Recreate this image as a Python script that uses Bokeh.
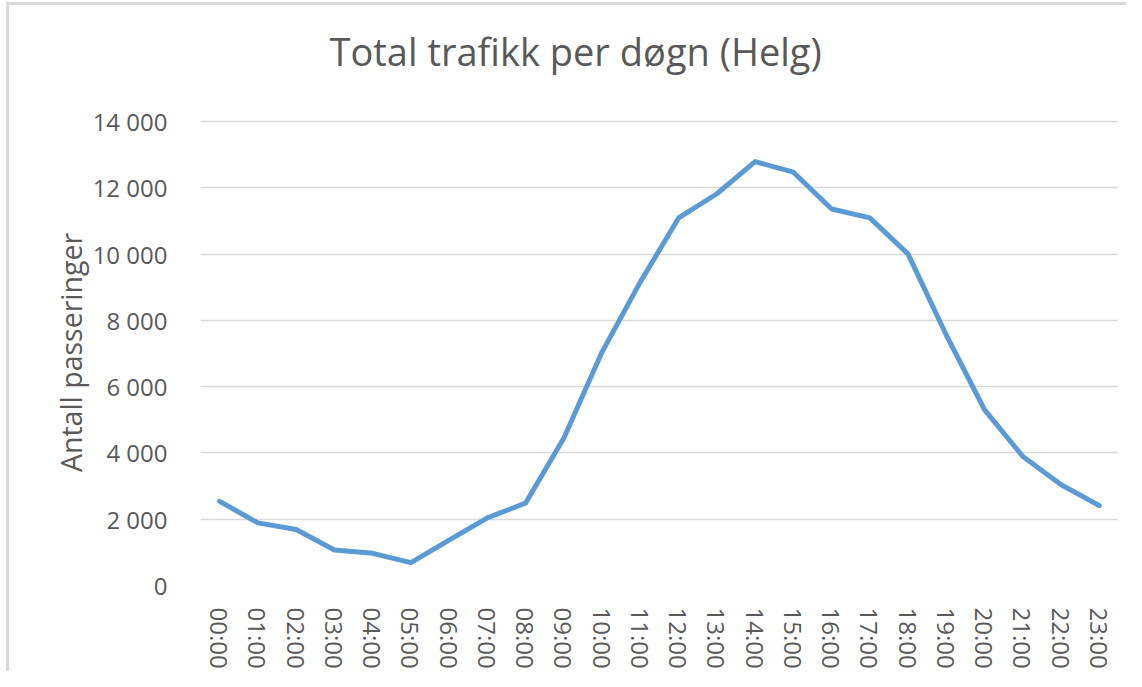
from bokeh.plotting import figure
from bokeh.models import FactorRange, Range1d, FixedTicker, Title, InlineStyleSheet
from bokeh.embed import file_html
from bokeh.resources import INLINE

hours = ["00:00", "01:00", "02:00", "03:00", "04:00", "05:00", "06:00", "07:00",
         "08:00", "09:00", "10:00", "11:00", "12:00", "13:00", "14:00", "15:00",
         "16:00", "17:00", "18:00", "19:00", "20:00", "21:00", "22:00", "23:00"]
passeringer = [2540, 1890, 1690, 1070, 970, 690, 1370, 2040,
               2490, 4450, 7050, 9160, 11090, 11820, 12790, 12470,
               11360, 11090, 10000, 7550, 5300, 3890, 3040, 2410]
y_ticks = [0, 2000, 4000, 6000, 8000, 10000, 12000, 14000]
y_tick_labels = ["0", "2 000", "4 000", "6 000", "8 000", "10 000", "12 000", "14 000"]
title_text = "Total trafikk per døgn (Helg)"

FONT = "Open Sans"
GREY = "#595959"

p = figure(width=1126, height=671, x_range=FactorRange(*hours), y_range=Range1d(0, 14060),
           output_backend="svg", toolbar_location=None,
           min_border_left=200, min_border_right=8, min_border_top=20, min_border_bottom=85)

# main title (outer)
p.title.text = title_text
p.title.text_font = FONT
p.title.text_font_size = "38px"
p.title.text_font_style = "normal"
p.title.text_color = GREY
p.title.align = "left"
p.title.offset = 129
p.title.standoff = 46.4

# spacer title (closest to the frame) to keep a gap between title and plot
spacer = Title(text=" ", text_font_size="1px", standoff=15.5)
p.add_layout(spacer, "above")

p.outline_line_color = None
p.background_fill_color = "white"
p.border_fill_color = "white"

p.xgrid.grid_line_color = None
p.ygrid.grid_line_color = "#d9d9d9"
p.ygrid.grid_line_width = 1.5

p.yaxis.ticker = FixedTicker(ticks=y_ticks)
p.yaxis.major_label_overrides = {t: l for t, l in zip(y_ticks, y_tick_labels)}
p.yaxis.axis_label = "Antall passeringer"

for ax in (p.xaxis[0], p.yaxis[0]):
    ax.axis_line_color = None
    ax.major_tick_line_color = None
    ax.minor_tick_line_color = None
    ax.major_label_text_font = FONT
    ax.major_label_text_font_size = "24px"
    ax.major_label_text_color = GREY
    ax.axis_label_text_font = FONT
    ax.axis_label_text_font_size = "28.5px"
    ax.axis_label_text_font_style = "normal"
    ax.axis_label_text_color = GREY

p.yaxis.major_label_standoff = 27
p.yaxis.axis_label_standoff = 0
p.xaxis.major_label_orientation = "vertical"
p.xaxis.major_label_standoff = 16

# outer chart-area border (top and left edges visible in the reference)
p.stylesheets = [InlineStyleSheet(css="""
:host { position: relative; }
:host::after {
  content: ""; position: absolute; left: 6px; top: 2px; right: 0; bottom: 0;
  border-top: 3px solid #d9d9d9; border-left: 3px solid #d9d9d9;
  pointer-events: none; z-index: 10;
}
""")]

p.line(x=hours, y=passeringer, line_width=5, line_color="#5b9bd5",
       line_join="round", line_cap="round")

open("out.html", "w").write(file_html(p, INLINE))
